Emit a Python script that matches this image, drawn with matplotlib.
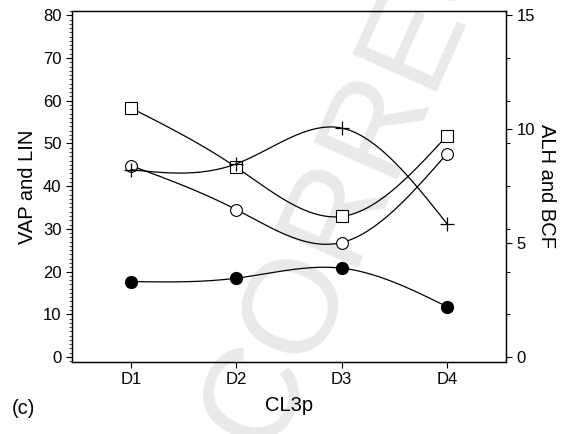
import numpy as np
import matplotlib.pyplot as plt
from matplotlib.ticker import MultipleLocator, FixedLocator

plt.rcParams['font.family'] = ['Liberation Sans', 'DejaVu Sans']

days = ['D1', 'D2', 'D3', 'D4']
vap = [58.3, 44.4, 32.9, 51.8]     # open squares, left axis
lin = [44.8, 34.5, 26.8, 47.6]     # open circles, left axis
bcf = [8.22, 8.48, 10.05, 5.85]    # plus signs, right axis
alh = [3.31, 3.46, 3.90, 2.21]     # filled circles, right axis


def spline(x, y, n=200):
    """natural cubic spline through the points, for the smooth connecting lines"""
    x = np.asarray(x, float)
    y = np.asarray(y, float)
    k = len(x)
    h = np.diff(x)
    A = np.zeros((k, k))
    b = np.zeros(k)
    A[0, 0] = A[-1, -1] = 1
    for i in range(1, k - 1):
        A[i, i - 1] = h[i - 1]
        A[i, i] = 2 * (h[i - 1] + h[i])
        A[i, i + 1] = h[i]
        b[i] = 6 * ((y[i + 1] - y[i]) / h[i] - (y[i] - y[i - 1]) / h[i - 1])
    M = np.linalg.solve(A, b)
    xs = np.linspace(x[0], x[-1], n)
    idx = np.clip(np.searchsorted(x, xs) - 1, 0, k - 2)
    x0, x1 = x[idx], x[idx + 1]
    hh = x1 - x0
    t0, t1 = x1 - xs, xs - x0
    ys = (M[idx] * t0**3 + M[idx + 1] * t1**3) / (6 * hh) \
        + (y[idx] / hh - M[idx] * hh / 6) * t0 \
        + (y[idx + 1] / hh - M[idx + 1] * hh / 6) * t1
    return xs, ys


x = np.arange(1, len(days) + 1)

fig = plt.figure(figsize=(5.62, 4.34), dpi=100)
ax = fig.add_axes([72 / 562, 1 - 362 / 434, 434 / 562, 351 / 434])
ax2 = ax.twinx()

# faint diagonal watermark behind everything
fig.text(0.40, 0.0, 'CORRECTED', fontsize=96, color='#e9e9e9', rotation=66,
         rotation_mode='anchor', ha='left', va='center_baseline', zorder=-1)
ax.patch.set_alpha(0)
ax2.patch.set_alpha(0)

lw = 0.9
for vals, mk in [(vap, 's'), (lin, 'o')]:
    xs, ys = spline(x, vals)
    ax.plot(xs, ys, color='black', lw=lw)
    ax.plot(x, vals, linestyle='none', marker=mk, ms=8.5, mfc='white', mec='black', mew=0.8)

xs, ys = spline(x, bcf)
ax2.plot(xs, ys, color='black', lw=lw)
ax2.plot(x, bcf, linestyle='none', marker='+', ms=10, mec='black', mew=0.9)
xs, ys = spline(x, alh)
ax2.plot(xs, ys, color='black', lw=lw)
ax2.plot(x, alh, linestyle='none', marker='o', ms=8.5, mfc='black', mec='black')

ylo, yhi = -1.17, 81.0
ax.set_ylim(ylo, yhi)
ax2.set_ylim(ylo * 15 / 80, yhi * 15 / 80)
ax.set_xlim(0.44, 4.56)

ax.set_xticks(x)
ax.set_xticklabels(days)
ax.set_yticks(np.arange(0, 81, 10))
ax.yaxis.set_minor_locator(MultipleLocator(1))
ax2.set_yticks([0, 5, 10, 15])
ax2.yaxis.set_minor_locator(FixedLocator(np.arange(0, 15.01, 1.875)))

ax.tick_params(axis='both', which='major', labelsize=12, length=4, width=0.8, direction='out')
ax.tick_params(axis='y', which='minor', length=2, width=0.5)
ax2.tick_params(axis='y', which='major', labelsize=12, length=4, width=0.8)
ax2.tick_params(axis='y', which='minor', length=3, width=0.7)

ax.set_ylabel('VAP and LIN', fontsize=14.5, labelpad=4)
ax2.set_ylabel('ALH and BCF', fontsize=14.5, rotation=-90, ha='center', va='center')
ax2.yaxis.set_label_coords(1.094, 0.5)
ax.set_xlabel('CL3p', fontsize=14.5, labelpad=6)
fig.text(12 / 562, 1 - 408 / 434, '(c)', fontsize=14.5, va='center')

for a in (ax, ax2):
    for s in a.spines.values():
        s.set_linewidth(0.9)

fig.savefig('out.png', dpi=100)
